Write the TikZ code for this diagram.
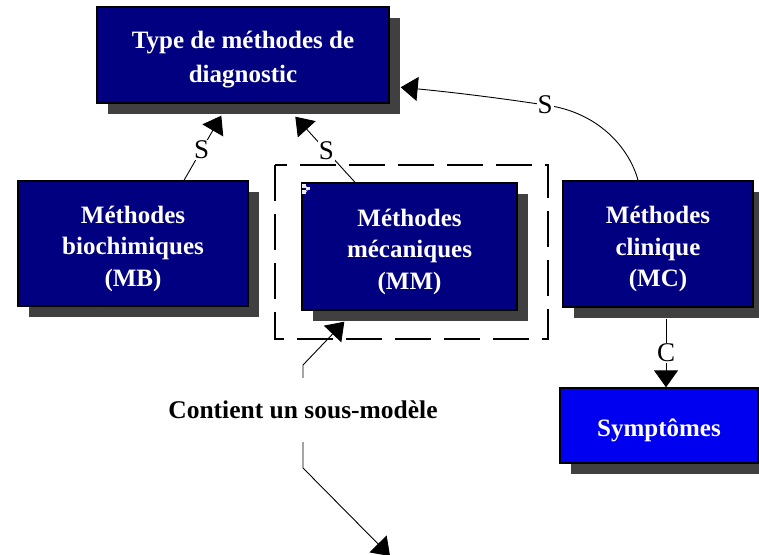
\documentclass[tikz,border=0pt]{standalone}
\usepackage{fontspec}
\setmainfont{Liberation Serif}
\usetikzlibrary{arrows.meta,shadows,calc}
\definecolor{navybox}{RGB}{0,0,128}
\definecolor{bluebox}{RGB}{0,0,240}
\definecolor{shade}{RGB}{64,64,64}
% a taller first line lowers the text block a little inside its box
\newcommand{\hdstrut}{\rule{0pt}{27.5pt}}
\begin{document}
\begin{tikzpicture}[x=1pt,y=-1pt,
  entity/.style={draw=black, line width=1.4pt, fill=navybox, text=white, align=center,
    font=\bfseries\fontsize{25}{31.5}\selectfont, inner sep=0pt,
    drop shadow={shadow xshift=11pt, shadow yshift=-11pt, fill=shade, opacity=1}},
  link/.style={line width=0.9pt, -{Triangle[length=17pt,width=24pt]}},
  twolink/.style={line width=0.9pt, {Triangle[length=17pt,width=24pt]}-{Triangle[length=17pt,width=24pt]}},
  tag/.style={fill=white, inner sep=1pt, font=\fontsize{27}{27}\selectfont},
  bigtag/.style={fill=white, inner xsep=2pt, inner ysep=0pt, minimum height=64pt,
    font=\bfseries\fontsize{25.5}{30}\selectfont},
  frame/.style={draw=black, line width=1.4pt, dash pattern=on 36pt off 13pt},
]
\useasboundingbox (0,0) rectangle (759,554);

% boxes
\node[entity, minimum width=292pt, minimum height=96pt] (top) at (243,55)
  {\hdstrut Type de méthodes de\\[2.5pt]diagnostic};
\node[entity, minimum width=230pt, minimum height=125pt] (mb) at (133,243.5)
  {\hdstrut Méthodes\\biochimiques\\(MB)};
\node[entity, minimum width=215pt, minimum height=127pt] (mm) at (409.5,246.5)
  {\hdstrut Méthodes\\mécaniques\\(MM)};
\node[entity, minimum width=190pt, minimum height=126pt] (mc) at (658,244)
  {\hdstrut Méthodes\\clinique\\(MC)};
\node[entity, fill=bluebox, minimum width=198pt, minimum height=75pt] (sym) at (659,425.5)
  {\hdstrut Symptômes};

% sub-model marker in the corner of MM
\fill[white!85!gray] ($(mm.north west)+(1,2)$) rectangle ++(3.5,3.5);
\fill[white!85!gray] ($(mm.north west)+(1,8)$) rectangle ++(3.5,3.5);
\fill[white!85!gray] ($(mm.north west)+(5,5)$) rectangle ++(4,3);
\draw[white!85!gray, line width=0.6pt] ($(mm.north west)+(4.5,3.8)$) -- ++(1.5,2)
  ($(mm.north west)+(4.5,9.8)$) -- ++(1.5,-2);

% dashed frame round the sub-model
\draw[frame] (275,165) rectangle (548,339);

% links
\draw[link] ([xshift=51pt]mb.north) -- node[tag, pos=0.47]{S} ($(top.south west)+(125,12)$);
\draw[link] ([xshift=-54.5pt]mm.north) -- node[tag, pos=0.48]{S} ($(top.south west)+(199,13)$);
\draw[link] ([xshift=-20pt]mc.north) .. controls (630,150) and (600,112) .. (545,105)
  .. controls (500,98) and (450,92) .. ($(top.north east)+(11,81)$);
\node[tag] (s3) at (545,105) {S};
\draw[link] ($(mc.south)+(8,11)$) -- node[tag, pos=0.5]{C} ([xshift=7pt]sym.north);

\coordinate (subend) at (390,556);
\draw[twolink] ($(mm.south west)+(43,11)$) -- (303,365)
  -- node[bigtag, pos=0.437]{Contient un sous-modèle} (303,468) -- (subend);
\end{tikzpicture}
\end{document}
